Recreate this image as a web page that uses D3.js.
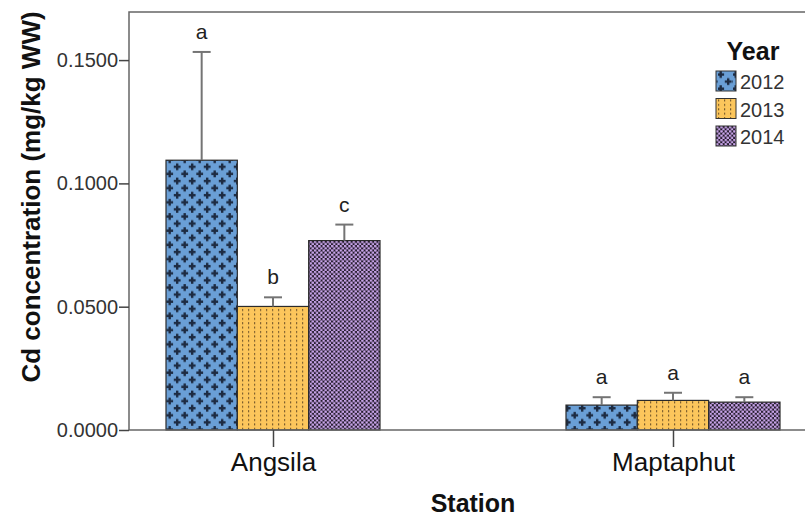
<!DOCTYPE html>
<html><head><meta charset="utf-8">
<script src="https://cdn.jsdelivr.net/npm/d3@7"></script>
<style>body{margin:0;background:#fff} svg{display:block;font-family:"Liberation Sans",Arial,sans-serif}</style>
</head><body><svg id="chart" width="805" height="519"></svg>
<script>
// Cd concentration by station and year (mean + error)
const stations = ["Angsila", "Maptaphut"];
const years = ["2012", "2013", "2014"];
const meanAngsila = [0.1094, 0.0501, 0.0768];
const errAngsila = [0.0439, 0.0037, 0.0065];
const meanMaptaphut = [0.0101, 0.0120, 0.0113];
const errMaptaphut = [0.0032, 0.0031, 0.0020];
const lettersAngsila = ["a", "b", "c"];
const lettersMaptaphut = ["a", "a", "a"];
const yTicks = [0, 0.05, 0.10, 0.15];

const rows = [];
stations.forEach((s, si) => {
  const m = si === 0 ? meanAngsila : meanMaptaphut;
  const e = si === 0 ? errAngsila : errMaptaphut;
  const l = si === 0 ? lettersAngsila : lettersMaptaphut;
  years.forEach((yr, i) => rows.push({station: s, year: yr, mean: m[i], err: e[i], letter: l[i]}));
});

const svg = d3.select("#chart");
const L = 129, T = 12, R = 817, B = 430;
const FONT = "Liberation Sans, Arial, sans-serif";

const x0 = d3.scalePoint().domain(stations).range([L, R]).padding(0.36);
const x1 = d3.scaleBand().domain(years).range([-107, 107]);
const y = d3.scaleLinear().domain([0, 0.1695]).range([B, T]);

// fill patterns
const defs = svg.append("defs");
const p12 = defs.append("pattern").attr("id", "pat2012").attr("patternUnits", "userSpaceOnUse")
  .attr("width", 15).attr("height", 14.2).attr("x", 166).attr("y", 0);
p12.append("rect").attr("width", 15).attr("height", 14.2).attr("fill", "#6a9fd6");
[[3.7, 3.5], [11.2, 10.6]].forEach(([cx, cy]) => {
  p12.append("rect").attr("x", cx - 3.4).attr("y", cy - 1.2).attr("width", 6.8).attr("height", 2.4).attr("fill", "#1d2b42");
  p12.append("rect").attr("x", cx - 1.2).attr("y", cy - 3.4).attr("width", 2.4).attr("height", 6.8).attr("fill", "#1d2b42");
});
const p13 = defs.append("pattern").attr("id", "pat2013").attr("patternUnits", "userSpaceOnUse")
  .attr("width", 6).attr("height", 4.4);
p13.append("rect").attr("width", 6).attr("height", 4.4).attr("fill", "#fcc65c");
p13.append("rect").attr("x", 2).attr("y", 1).attr("width", 1.2).attr("height", 2).attr("fill", "#7a5c2c");
const p14 = defs.append("pattern").attr("id", "pat2014").attr("patternUnits", "userSpaceOnUse")
  .attr("width", 4.3).attr("height", 4.3);
p14.append("rect").attr("width", 4.3).attr("height", 4.3).attr("fill", "#241b2c");
[[1.07, 1.07], [3.22, 3.22]].forEach(([cx, cy]) =>
  p14.append("circle").attr("cx", cx).attr("cy", cy).attr("r", 1.35).attr("fill", "#c9a5ea"));
const fillOf = d3.scaleOrdinal().domain(years).range(["url(#pat2012)", "url(#pat2013)", "url(#pat2014)"]);

// frame
svg.append("path").attr("d", `M${L},${B}V${T}H${R}`).attr("fill", "none").attr("stroke", "#666").attr("stroke-width", 1.5);

// bars
svg.append("g").selectAll("rect").data(rows).join("rect")
  .attr("x", d => x0(d.station) + x1(d.year))
  .attr("width", x1.bandwidth())
  .attr("y", d => y(d.mean))
  .attr("height", d => y(0) - y(d.mean))
  .attr("fill", d => fillOf(d.year))
  .attr("stroke", "#2a2a2a").attr("stroke-width", 1.2);

// error bars
const cx = d => x0(d.station) + x1(d.year) + x1.bandwidth() / 2;
const eb = svg.append("g").attr("stroke", "#747474").attr("stroke-width", 2);
eb.selectAll("line.v").data(rows).join("line").attr("class", "v")
  .attr("x1", cx).attr("x2", cx)
  .attr("y1", d => y(d.mean)).attr("y2", d => y(d.mean + d.err));
eb.selectAll("line.c").data(rows).join("line").attr("class", "c")
  .attr("x1", d => cx(d) - 9).attr("x2", d => cx(d) + 9)
  .attr("y1", d => y(d.mean + d.err)).attr("y2", d => y(d.mean + d.err));

// group letters
svg.append("g").selectAll("text").data(rows).join("text")
  .attr("x", cx)
  .attr("y", d => y(d.mean + d.err) - 13)
  .attr("text-anchor", "middle").attr("font-size", 21).attr("fill", "#222")
  .text(d => d.letter);

// y axis
const yAxis = svg.append("g").attr("transform", `translate(${L},0)`)
  .call(d3.axisLeft(y).tickValues(yTicks).tickFormat(d3.format(".4f")).tickSize(10).tickPadding(1));
yAxis.select(".domain").remove();
yAxis.selectAll("line").attr("stroke", "#444").attr("stroke-width", 1.5);
yAxis.selectAll("text").attr("font-size", 20).attr("fill", "#333").attr("font-family", FONT);

// x axis
const xAxis = svg.append("g").attr("transform", `translate(0,${B})`)
  .call(d3.axisBottom(x0).tickSize(17).tickPadding(6));
xAxis.select(".domain").attr("d", `M${L},0H${R}`).attr("stroke", "#666").attr("stroke-width", 1.5);
xAxis.selectAll("line").attr("stroke", "#444").attr("stroke-width", 1.5);
xAxis.selectAll("text").attr("font-size", 26).attr("fill", "#111").attr("font-family", FONT);

// axis titles
svg.append("text").attr("x", 473).attr("y", 512).attr("text-anchor", "middle")
  .attr("font-size", 25).attr("font-weight", "bold").attr("fill", "#111").text("Station");
svg.append("text").attr("transform", "translate(40,197) rotate(-90)").attr("text-anchor", "middle")
  .attr("font-size", 26).attr("font-weight", "bold").attr("fill", "#111").text("Cd concentration (mg/kg WW)");

// legend
const lg = svg.append("g");
lg.append("text").attr("x", 753).attr("y", 60).attr("text-anchor", "middle")
  .attr("font-size", 25).attr("font-weight", "bold").attr("fill", "#111").text("Year");
const li = lg.selectAll("g.item").data(years).join("g").attr("class", "item")
  .attr("transform", (d, i) => `translate(716,${71 + i * 27.5})`);
li.append("rect").attr("width", 20).attr("height", 20).attr("fill", d => fillOf(d)).attr("stroke", "#333");
li.append("text").attr("x", 24).attr("y", 18).attr("font-size", 20).attr("fill", "#333").text(d => d);
</script></body></html>
